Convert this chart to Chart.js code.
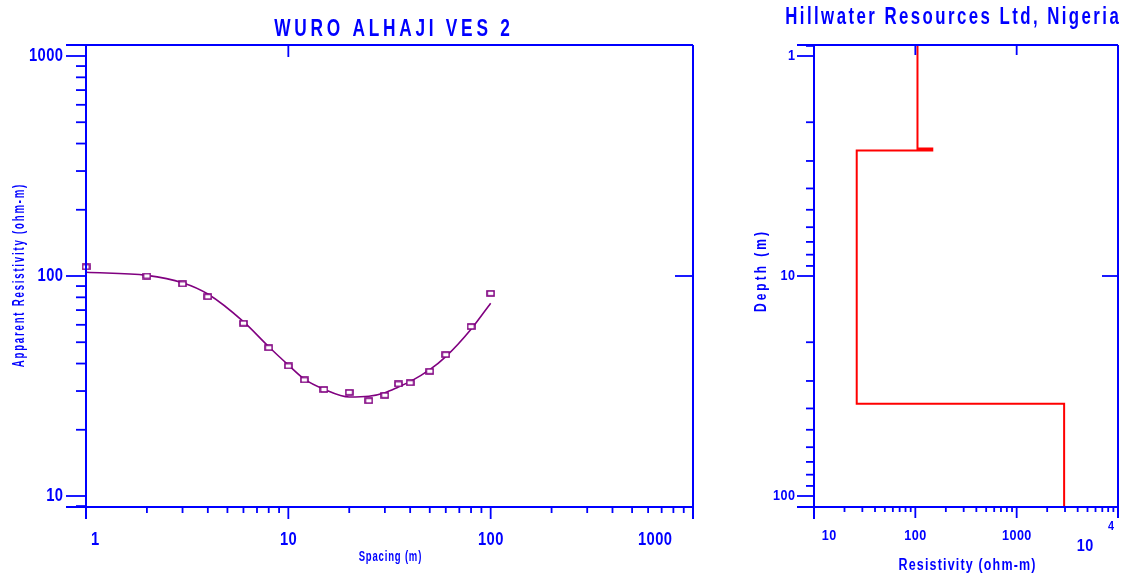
<!DOCTYPE html>
<html>
<head>
<meta charset="utf-8">
<script src="https://cdn.jsdelivr.net/npm/chart.js@4"></script>
<style>
  html, body { margin: 0; background: #fff; }
  #wrap { position: relative; width: 1127px; height: 577px; }
  #wrap canvas { position: absolute; left: 0; top: 0; }
</style>
</head>
<body>
<div id="wrap">
  <canvas id="ves" width="1127" height="577"></canvas>
  <canvas id="layers" width="1127" height="577"></canvas>
</div>
<script>
// ---------- Data: VES sounding curve ----------
const SPACING = [1, 2, 3, 4, 6, 8, 10, 12, 15, 20, 25, 30, 35, 40, 50, 60, 80, 100];
const APPARENT_RES = [110, 100, 92, 80.5, 61, 47.2, 39, 33.7, 30.5, 29.6, 27.1, 28.7, 32.3, 32.7, 36.9, 43.9, 58.9, 83.4];
const MODEL_SPACING = [1, 2, 3, 4, 6, 8, 10, 12, 15, 20, 25, 30, 35, 40, 50, 60, 80, 100];
const MODEL_RES = [104, 100.7, 93.2, 82.8, 62, 47.7, 39.4, 34, 30.6, 28.2, 28.4, 29.5, 31.3, 33.1, 37.5, 43, 57.3, 75.2];
const VES_X_TICKS = [1, 10, 100, 1000];
const VES_Y_TICKS = [10, 100, 1000];

// ---------- Data: layered model ----------
const LAYER_RES = [105, 147, 26.4, 2940];
const LAYER_TOP = [0.891, 2.63, 2.69, 38.1];
const LAYER_BOTTOM = [2.63, 2.69, 38.1, 112.2];
const RES_X_TICKS = [10, 100, 1000, 10000];
const DEPTH_TICKS = [1, 10, 100];

const BLUE = '#0000ff', PURPLE = '#800080', RED = '#ff0000';

// ---------- Helpers ----------
function minorTicks(min, max) {
  const out = [];
  for (let d = Math.pow(10, Math.floor(Math.log10(min))); d < max; d *= 10)
    for (let k = 2; k <= 9; k++) if (k * d > min && k * d < max) out.push(k * d);
  return out;
}

function seg(ctx, x1, y1, x2, y2) {
  ctx.beginPath(); ctx.moveTo(x1, y1); ctx.lineTo(x2, y2); ctx.stroke();
}

// text squeezed horizontally (the original uses a narrow bold face)
function label(ctx, text, x, y, o) {
  ctx.save();
  ctx.translate(x, y);
  if (o.rot) ctx.rotate(o.rot);
  ctx.scale(o.sx || 1, 1);
  ctx.font = `bold ${o.size}px "Liberation Sans", Arial, sans-serif`;
  ctx.letterSpacing = (o.ls || 0) + 'px';
  ctx.fillStyle = BLUE;
  ctx.textBaseline = 'middle';
  ctx.textAlign = 'left';
  const w = ctx.measureText(text).width - (o.ls || 0);
  const x0 = o.align === 'right' ? -w : o.align === 'left' ? 0 : -w / 2;
  ctx.fillText(text, x0, 0);
  ctx.restore();
}

const marker = document.createElement('canvas');
marker.width = 9; marker.height = 7;
(() => {
  const m = marker.getContext('2d');
  m.fillStyle = '#fff'; m.fillRect(1, 1, 7, 5);
  m.strokeStyle = PURPLE; m.lineWidth = 1.6; m.strokeRect(1, 1, 7, 5);
})();

// ---------- Frame plugins ----------
const vesFrame = {
  id: 'vesFrame',
  afterDraw(chart) {
    const { ctx, chartArea: a } = chart;
    const xs = chart.scales.x, ys = chart.scales.y;
    ctx.save();
    ctx.strokeStyle = BLUE; ctx.lineWidth = 2;
    seg(ctx, a.left - 20, a.top, a.right, a.top);
    seg(ctx, a.left - 20, a.bottom, a.right, a.bottom);
    seg(ctx, a.left, a.top, a.left, a.bottom + 12);
    seg(ctx, a.right, a.top, a.right, a.bottom + 12);
    ctx.lineWidth = 1.8;
    VES_Y_TICKS.forEach(v => seg(ctx, a.left - 20, ys.getPixelForValue(v), a.left, ys.getPixelForValue(v)));
    minorTicks(ys.min, ys.max).forEach(v => seg(ctx, a.left - 10, ys.getPixelForValue(v), a.left, ys.getPixelForValue(v)));
    VES_X_TICKS.forEach(v => seg(ctx, xs.getPixelForValue(v), a.bottom, xs.getPixelForValue(v), a.bottom + 12));
    minorTicks(xs.min, xs.max).forEach(v => seg(ctx, xs.getPixelForValue(v), a.bottom, xs.getPixelForValue(v), a.bottom + 6));
    seg(ctx, xs.getPixelForValue(10), a.top, xs.getPixelForValue(10), a.top + 12);
    seg(ctx, a.right - 18, ys.getPixelForValue(100), a.right, ys.getPixelForValue(100));

    const tick = { size: 18, sx: 0.82, ls: 0.5 };
    VES_Y_TICKS.forEach(v => label(ctx, String(v), 63, ys.getPixelForValue(v), { ...tick, align: 'right' }));
    const xOff = [9, 0, 0, -38];
    VES_X_TICKS.forEach((v, i) => label(ctx, String(v), xs.getPixelForValue(v) + xOff[i], 540, tick));

    label(ctx, 'WURO ALHAJI VES 2', 392, 29, { size: 24, sx: 0.72, ls: 5.2 });
    label(ctx, 'Spacing (m)', 390, 557, { size: 14, sx: 0.68, ls: 1.2 });
    label(ctx, 'Apparent Resistivity (ohm-m)', 20, 276, { size: 16, sx: 0.6, ls: 3, rot: -Math.PI / 2 });
    ctx.restore();
  }
};

const layerFrame = {
  id: 'layerFrame',
  afterDraw(chart) {
    const { ctx, chartArea: a } = chart;
    const xs = chart.scales.x, ys = chart.scales.y;
    ctx.save();
    ctx.strokeStyle = BLUE; ctx.lineWidth = 2;
    seg(ctx, a.left - 17, a.top, a.right, a.top);
    seg(ctx, a.left - 17, a.bottom, a.right, a.bottom);
    seg(ctx, a.left, a.top, a.left, a.bottom + 12);
    seg(ctx, a.right, a.top, a.right, a.bottom + 11);
    ctx.lineWidth = 1.8;
    DEPTH_TICKS.forEach(v => seg(ctx, a.left - 17, ys.getPixelForValue(v), a.left, ys.getPixelForValue(v)));
    minorTicks(ys.min, ys.max).forEach(v => seg(ctx, a.left - 8, ys.getPixelForValue(v), a.left, ys.getPixelForValue(v)));
    RES_X_TICKS.forEach(v => seg(ctx, xs.getPixelForValue(v), a.bottom, xs.getPixelForValue(v), a.bottom + 11));
    minorTicks(xs.min, xs.max).forEach(v => seg(ctx, xs.getPixelForValue(v), a.bottom, xs.getPixelForValue(v), a.bottom + 5));
    [100, 1000].forEach(v => seg(ctx, xs.getPixelForValue(v), a.top, xs.getPixelForValue(v), a.top + 10));
    seg(ctx, a.right - 16, ys.getPixelForValue(10), a.right, ys.getPixelForValue(10));

    const tick = { size: 14, sx: 0.9, ls: 0.5 };
    DEPTH_TICKS.forEach(v => label(ctx, String(v), 795, ys.getPixelForValue(v), { ...tick, align: 'right' }));
    const xOff = [15, 0, 0];
    RES_X_TICKS.slice(0, 3).forEach((v, i) => label(ctx, String(v), xs.getPixelForValue(v) + xOff[i], 536, tick));
    const p4 = xs.getPixelForValue(RES_X_TICKS[3]);
    label(ctx, '10', p4 - 33, 547, { size: 16, sx: 0.9, ls: 0.5 });
    label(ctx, '4', p4 - 7, 527, { size: 12, sx: 0.9 });

    label(ctx, 'Hillwater Resources Ltd, Nigeria', 952, 17, { size: 24, sx: 0.7, ls: 3.5 });
    label(ctx, 'Resistivity (ohm-m)', 967, 566, { size: 16, sx: 0.78, ls: 1.5 });
    label(ctx, 'Depth (m)', 762, 272, { size: 16, sx: 0.75, ls: 4, rot: -Math.PI / 2 });
    ctx.restore();
  }
};

const baseOptions = (pad, x, y) => ({
  responsive: false,
  animation: false,
  events: [],
  layout: { padding: pad },
  plugins: { legend: { display: false }, tooltip: { enabled: false } },
  scales: {
    x: { type: 'logarithmic', bounds: 'data', display: false, ...x },
    y: { type: 'logarithmic', bounds: 'data', display: false, ...y },
  },
});

// ---------- VES curve ----------
new Chart(document.getElementById('ves'), {
  type: 'line',
  data: {
    datasets: [
      {
        data: SPACING.map((s, i) => ({ x: s, y: APPARENT_RES[i] })),
        showLine: false, pointStyle: marker, pointRadius: 4, clip: false,
      },
      {
        data: MODEL_SPACING.map((s, i) => ({ x: s, y: MODEL_RES[i] })),
        borderColor: PURPLE, borderWidth: 1.6, pointRadius: 0,
        cubicInterpolationMode: 'monotone', clip: false,
      },
    ],
  },
  options: baseOptions({ left: 86, top: 45, right: 1127 - 693, bottom: 577 - 507 },
    { min: 1, max: 1000 }, { min: Math.pow(10, 0.95), max: Math.pow(10, 3.05) }),
  plugins: [vesFrame],
});

// ---------- Layered model ----------
const steps = [];
LAYER_RES.forEach((r, i) => steps.push({ x: r, y: LAYER_TOP[i] }, { x: r, y: LAYER_BOTTOM[i] }));

new Chart(document.getElementById('layers'), {
  type: 'line',
  data: {
    datasets: [{
      data: steps, borderColor: RED, borderWidth: 2, pointRadius: 0, tension: 0, clip: false,
    }],
  },
  options: baseOptions({ left: 814, top: 45, right: 1127 - 1118, bottom: 577 - 507 },
    { min: 10, max: 10000 }, { min: Math.pow(10, -0.05), max: Math.pow(10, 2.05), reverse: true }),
  plugins: [layerFrame],
});
</script>
</body>
</html>
